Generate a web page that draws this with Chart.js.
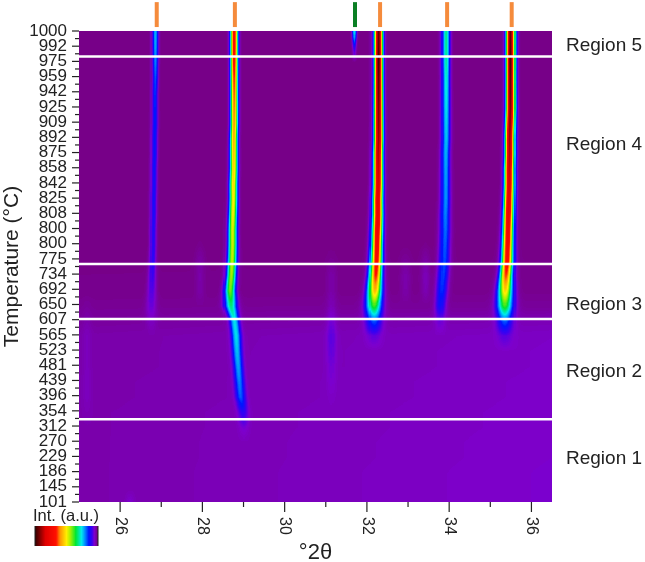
<!DOCTYPE html>
<html>
<head>
<meta charset="utf-8">
<script src="https://cdn.jsdelivr.net/npm/chart.js@4/dist/chart.umd.min.js"></script>
<style>
  html, body { margin: 0; padding: 0; background: #fff; }
  canvas { display: block; }
</style>
</head>
<body>
<canvas id="heat" width="645" height="562"></canvas>
<script>
// scan rows, bottom to top
var tempLabels = [101,145,186,229,270,312,354,396,439,481,523,565,607,650,692,734,775,800,800,808,825,842,858,875,892,909,925,942,959,975,992,1000];
var xTickValues = [26,27,28,29,30,31,32,33,34,35,36];

// background level of each row at the left and right edge
var bgLeft  = [.028,.028,.028,.028,.028,.028,.028,.027,.027,.026,.026,.026,.018,.012,.006,.006,.004,.002,.002,.002,.002,.002,.002,.002,.002,.002,.002,.002,.002,.002,.002,.002];
var bgRight = [.050,.050,.050,.049,.049,.048,.048,.047,.047,.046,.046,.045,.035,.016,.008,.008,.006,.004,.004,.004,.003,.003,.003,.003,.003,.003,.003,.003,.003,.003,.003,.003];

// strong peaks: centre (deg 2theta), height and width per row
var peakA_c = [26.78,26.78,26.78,26.78,26.78,26.78,26.78,26.78,26.78,26.78,26.78,26.78,26.77,26.77,26.78,26.79,26.8,26.81,26.81,26.82,26.82,26.83,26.83,26.84,26.84,26.85,26.85,26.85,26.86,26.86,26.86,26.86];
var peakA_h = [0,0,0,0,0,0,0,0,0,0,0,0,.02,.05,.07,.085,.1,.105,.11,.115,.12,.12,.125,.13,.135,.14,.145,.15,.165,.19,.21,.22];
var peakA_w = [.05,.05,.05,.05,.05,.05,.05,.05,.05,.05,.05,.05,.09,.08,.07,.06,.052,.05,.05,.05,.05,.05,.05,.05,.05,.05,.048,.048,.048,.048,.048,.048];

var peakB_c = [29.02,29.02,29.02,29.02,29.02,29.02,29,28.94,28.91,28.88,28.85,28.83,28.79,28.7,28.68,28.71,28.73,28.74,28.74,28.75,28.76,28.76,28.77,28.77,28.77,28.78,28.78,28.78,28.78,28.78,28.78,28.78];
var peakB_h = [0,0,0,0,0,.02,.07,.14,.16,.18,.2,.22,.23,.3,.4,.43,.45,.46,.47,.49,.5,.52,.53,.55,.57,.59,.61,.63,.66,.7,.72,.72];
var peakB_w = [.07,.07,.07,.07,.07,.075,.075,.073,.07,.068,.068,.068,.07,.085,.075,.068,.066,.064,.062,.06,.058,.057,.056,.055,.054,.053,.053,.052,.052,.052,.052,.052];

var peakG_c = [31.71,31.71,31.71,31.71,31.71,31.71,31.71,31.71,31.71,31.71,31.71,31.71,31.71,31.71,31.71,31.71,31.71,31.71,31.71,31.71,31.71,31.71,31.71,31.71,31.71,31.71,31.71,31.71,31.71,31.71,31.71,31.71];
var peakG_h = [0,0,0,0,0,0,0,0,0,0,0,0,0,0,0,0,0,0,0,0,0,0,0,0,0,0,0,0,0,0,.1,.25];
var peakG_w = [.04,.04,.04,.04,.04,.04,.04,.04,.04,.04,.04,.04,.04,.04,.04,.04,.04,.04,.04,.04,.04,.04,.04,.04,.04,.04,.035,.035,.035,.035,.035,.04];

var peakD_c = [32.18,32.18,32.18,32.18,32.18,32.18,32.18,32.18,32.18,32.18,32.18,32.18,32.18,32.18,32.2,32.22,32.24,32.25,32.26,32.27,32.27,32.28,32.28,32.28,32.29,32.29,32.29,32.29,32.29,32.29,32.29,32.29];
var peakD_h = [0,0,0,0,0,0,0,0,0,0,0,.03,.14,.36,.55,.66,.72,.75,.78,.8,.82,.84,.86,.88,.9,.92,.93,.95,.96,.98,.96,.95];
var peakD_w = [.1,.1,.1,.1,.1,.1,.1,.1,.1,.1,.1,.1,.1,.1,.09,.078,.072,.068,.066,.064,.062,.06,.059,.058,.057,.056,.055,.054,.053,.053,.053,.053];

var peakE_c = [33.79,33.79,33.79,33.79,33.79,33.79,33.79,33.79,33.79,33.79,33.79,33.79,33.79,33.8,33.83,33.86,33.89,33.9,33.91,33.91,33.92,33.92,33.92,33.92,33.93,33.93,33.93,33.93,33.93,33.93,33.93,33.93];
var peakE_h = [0,0,0,0,0,0,0,0,0,0,0,0,.03,.11,.14,.15,.16,.17,.18,.19,.2,.205,.21,.22,.23,.24,.25,.26,.27,.29,.3,.3];
var peakE_w = [.08,.08,.08,.08,.08,.08,.08,.08,.08,.08,.08,.08,.08,.08,.085,.085,.083,.08,.078,.075,.072,.07,.068,.066,.065,.064,.063,.062,.06,.06,.06,.06];

var peakF_c = [35.37,35.37,35.37,35.37,35.37,35.37,35.37,35.37,35.37,35.37,35.37,35.37,35.37,35.37,35.38,35.4,35.43,35.44,35.45,35.46,35.47,35.48,35.48,35.49,35.49,35.5,35.51,35.51,35.51,35.51,35.51,35.51];
var peakF_h = [0,0,0,0,0,0,0,0,0,0,0,.03,.14,.36,.52,.64,.72,.75,.78,.8,.82,.84,.86,.88,.9,.92,.93,.95,.96,.98,.96,.95];
var peakF_w = [.1,.1,.1,.1,.1,.1,.1,.1,.1,.1,.1,.1,.1,.105,.095,.08,.073,.069,.066,.064,.062,.06,.059,.058,.057,.056,.055,.054,.053,.053,.053,.053];

// faint streaks: fixed centre, height per row
var weakCentres = [25.2, 26.25, 27.95, 31.15, 32.95, 33.44];
var weak252 = [0,0,0,0,0,0,.005,.012,.012,.012,.012,.012,.01,.005,0,0,0,0,0,0,0,0,0,0,0,0,0,0,0,0,0,0];
var weak263 = [.02,0,0,0,0,0,0,0,0,0,0,0,0,0,0,0,0,0,0,0,0,0,0,0,0,0,0,0,0,0,0,0];
var weak279 = [0,0,0,0,0,0,0,0,0,0,0,0,0,0,.018,.02,.018,.005,0,0,0,0,0,0,0,0,0,0,0,0,0,0];
var weak311 = [0,0,0,0,0,0,0,.006,.014,.02,.03,.035,.03,.02,.018,.018,.006,0,0,0,0,0,0,0,0,0,0,0,0,0,0,0];
var weak329 = [0,0,0,0,0,0,0,0,0,0,0,0,0,0,.018,.02,.01,0,0,0,0,0,0,0,0,0,0,0,0,0,0,0];
var weak334 = [0,0,0,0,0,0,0,0,0,0,0,0,0,0,.025,.03,.018,.003,0,0,0,0,0,0,0,0,0,0,0,0,0,0];

// reference reflections above the map and region borders (row units)
var orangeMarks = [26.89, 28.79, 32.32, 33.95, 35.52];
var greenMarks = [31.71];
var regionBorders = [5.44, 12.04, 15.67, 29.32];
var regionNames = ["Region 1", "Region 2", "Region 3", "Region 4", "Region 5"];
var regionRows = [2.87, 8.6, 13, 23.5, 30];

var xMin = 25, xMax = 36.5;
var weakWidth = .08;

var peaks = [[peakA_c,peakA_h,peakA_w,1.05],[peakB_c,peakB_h,peakB_w,1.2],[peakG_c,peakG_h,peakG_w,1],[peakD_c,peakD_h,peakD_w,1.3],[peakE_c,peakE_h,peakE_w,1.1],[peakF_c,peakF_h,peakF_w,1.3]];
var weaks = [weak252,weak263,weak279,weak311,weak329,weak334];

// colour stops of the intensity scale
var stops = [[0,118,0,130],[.05,125,0,205],[.09,60,0,240],[.14,0,20,255],[.2,0,140,255],[.26,0,235,235],[.35,0,230,50],[.44,170,240,0],[.5,255,240,0],[.6,255,150,0],[.67,255,15,0],[.84,225,0,0],[1,55,0,0]];
var lut = [];
for (var n = 0; n <= 255; n++) {
  var v = n / 255, k = 0;
  while (k < stops.length - 2 && v > stops[k + 1][0]) k++;
  var a = stops[k], b = stops[k + 1], t = (v - a[0]) / (b[0] - a[0]);
  lut.push('rgb(' + Math.round(a[1] + (b[1] - a[1]) * t) + ',' + Math.round(a[2] + (b[2] - a[2]) * t) + ',' + Math.round(a[3] + (b[3] - a[3]) * t) + ')');
}
function mix(arr, r0, f) {
  return arr[r0] + (arr[Math.min(r0 + 1, arr.length - 1)] - arr[r0]) * f;
}
function level(deg, row) {
  var r0 = Math.floor(row), f = row - r0;
  var s = (deg - xMin) / (xMax - xMin);
  var val = mix(bgLeft, r0, f) * (1 - s) + mix(bgRight, r0, f) * s;
  for (var i = 0; i < peaks.length; i++) {
    var h = mix(peaks[i][1], r0, f);
    if (h <= 0) continue;
    var c = mix(peaks[i][0], r0, f), w = mix(peaks[i][2], r0, f) * peaks[i][3], d = (deg - c) / w;
    val += h * Math.exp(-.5 * d * d);
  }
  for (var j = 0; j < weaks.length; j++) {
    var hw = mix(weaks[j], r0, f);
    if (hw <= 0) continue;
    var e = (deg - weakCentres[j]) / weakWidth;
    val += hw * Math.exp(-.5 * e * e);
  }
  return Math.min(1, val);
}

var heatPlugin = {
  id: 'heat',
  beforeDatasetsDraw: function(chart) {
    var xs = chart.scales.x, ys = chart.scales.y, area = chart.chartArea;
    var colStep = .025, rowStep = .07;
    // cells go on a side canvas first so the map can be softened a little
    var off = document.createElement('canvas');
    off.width = chart.width; off.height = chart.height;
    var oc = off.getContext('2d');
    for (var row = 0; row < tempLabels.length - 1; row += rowStep) {
      var y1 = ys.getPixelForValue(row), y0 = ys.getPixelForValue(row + rowStep);
      for (var deg = xMin; deg < xMax; deg += colStep) {
        var x0 = xs.getPixelForValue(deg), x1 = xs.getPixelForValue(deg + colStep);
        oc.fillStyle = lut[Math.round(level(deg + colStep / 2, row + rowStep / 2) * 255)];
        oc.fillRect(Math.floor(x0), Math.floor(y0), Math.ceil(x1 - x0) + 1, Math.ceil(y1 - y0) + 1);
      }
    }
    var ctx = chart.ctx;
    ctx.save();
    ctx.beginPath();
    ctx.rect(area.left, area.top, area.right - area.left, area.bottom - area.top);
    ctx.clip();
    ctx.drawImage(off, 0, 0);
    ctx.filter = 'blur(0.7px)';
    ctx.drawImage(off, 0, 0);
    ctx.restore();
  },
  afterDraw: function(chart) {
    var ctx = chart.ctx, xs = chart.scales.x, ys = chart.scales.y, area = chart.chartArea;
    ctx.save();
    ctx.strokeStyle = '#222';
    ctx.lineWidth = 1.2;
    ctx.fillStyle = '#222';
    // y ticks, labelled ones longer
    ys.ticks.forEach(function(t) {
      var y = ys.getPixelForValue(t.value);
      var len = Number.isInteger(t.value) ? 7 : 4;
      ctx.beginPath(); ctx.moveTo(area.left - len, y); ctx.lineTo(area.left, y); ctx.stroke();
    });
    // x ticks and the labels turned clockwise
    ctx.font = '16px "Liberation Sans"';
    ctx.textAlign = 'left';
    ctx.textBaseline = 'middle';
    xs.ticks.forEach(function(t) {
      var x = xs.getPixelForValue(t.value);
      var even = t.value % 2 === 0;
      ctx.beginPath(); ctx.moveTo(x, area.bottom); ctx.lineTo(x, area.bottom + (even ? 10 : 5)); ctx.stroke();
      if (even) {
        ctx.save();
        ctx.translate(x, area.bottom + 15);
        ctx.rotate(Math.PI / 2);
        ctx.fillText(String(t.value), 0, 0);
        ctx.restore();
      }
    });
    // region names
    ctx.font = '19px "Liberation Sans"';
    ctx.fillStyle = '#222';
    regionNames.forEach(function(name, i) {
      ctx.fillText(name, area.right + 14, ys.getPixelForValue(regionRows[i]));
    });
    // colour bar
    ctx.font = '16.5px "Liberation Sans"';
    ctx.fillText('Int. (a.u.)', 33, 516);
    for (var p = 35; p < 98; p++) {
      ctx.fillStyle = lut[Math.round((1 - (p - 35) / 62) * 255)];
      ctx.fillRect(p, 526, 1, 20);
    }
    ctx.fillStyle = '#222';
    ctx.fillRect(34.5, 526, 1, 20);
    ctx.fillRect(97.5, 526, 1, 20);
    ctx.restore();
  }
};

var datasets = [];
regionBorders.forEach(function(r) {
  datasets.push({ data: [{x: xMin, y: r}, {x: xMax, y: r}], showLine: true, borderColor: '#fff', borderWidth: 2.5, pointRadius: 0 });
});
orangeMarks.forEach(function(m) {
  datasets.push({ data: [{x: m, y: 31.26}, {x: m, y: 32.9}], showLine: true, borderColor: '#f58b3c', borderWidth: 4, pointRadius: 0, clip: false });
});
greenMarks.forEach(function(m) {
  datasets.push({ data: [{x: m, y: 31.26}, {x: m, y: 32.9}], showLine: true, borderColor: '#0b7f24', borderWidth: 4, pointRadius: 0, clip: false });
});

new Chart(document.getElementById('heat').getContext('2d'), {
  type: 'scatter',
  data: { datasets: datasets },
  plugins: [heatPlugin],
  options: {
    responsive: false,
    animation: false,
    layout: { padding: { top: 31, right: 93, left: 0, bottom: 0 } },
    plugins: { legend: { display: false }, tooltip: { enabled: false } },
    scales: {
      x: {
        type: 'linear', min: xMin, max: xMax,
        afterFit: function(s) { s.height = 60; },
        afterBuildTicks: function(s) { s.ticks = xTickValues.map(function(v) { return { value: v }; }); },
        ticks: { display: false, stepSize: 1 },
        grid: { display: false },
        border: { display: false },
        title: { display: true, text: '°2θ', color: '#222', font: { family: 'Liberation Sans', size: 22, lineHeight: .8 }, padding: { top: 0, bottom: 0 } }
      },
      y: {
        type: 'linear', min: 0, max: tempLabels.length - 1,
        afterFit: function(s) { s.width = 79; },
        ticks: {
          stepSize: .5, autoSkip: false, padding: 12, color: '#222',
          font: { family: 'Liberation Sans', size: 17 },
          callback: function(v) { return Number.isInteger(v) ? String(tempLabels[v]) : ''; }
        },
        grid: { display: false, drawTicks: false },
        border: { display: false },
        title: { display: true, text: 'Temperature (°C)', color: '#222', font: { family: 'Liberation Sans', size: 21 }, padding: { top: 0, bottom: 0 } }
      }
    }
  }
});
</script>
</body>
</html>
